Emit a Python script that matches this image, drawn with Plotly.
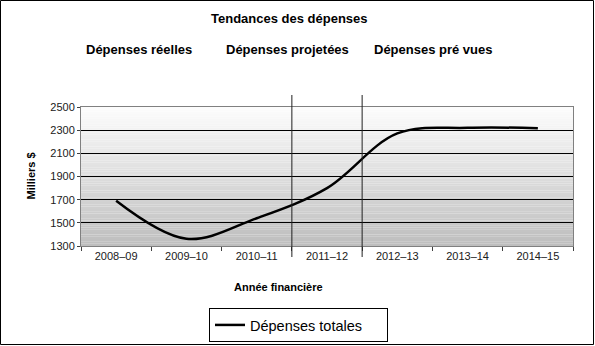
import plotly.graph_objects as go

categories = ["2008–09", "2009–10", "2010–11", "2011–12", "2012–13", "2013–14", "2014–15"]
depenses_totales = [1690, 1362, 1540, 1800, 2272, 2320, 2317]
y_ticks = [1300, 1500, 1700, 1900, 2100, 2300, 2500]
section_titles = ["Dépenses réelles", "Dépenses projetées", "Dépenses pré vues"]

W, H = 595, 346
L, R, T, B = 81, 22, 107, 100
pw, ph = W - L - R, H - T - B

fig = go.Figure()
fig.add_trace(go.Scatter(
    x=categories, y=depenses_totales, mode="lines", name="Dépenses totales",
    line=dict(color="black", width=2.5, shape="spline", smoothing=1.0),
))

shapes = []
# vertical gradient background of plot area
n = 60
for i in range(n):
    f = i / (n - 1)
    v = int(round(190 + (252 - 190) * f))
    shapes.append(dict(type="rect", xref="x domain", yref="y domain",
                       x0=0, x1=1, y0=i / n, y1=(i + 1) / n,
                       fillcolor=f"rgb({v},{v},{v})", line=dict(width=0), layer="below"))
# section separator lines
for xs in (2.5, 3.5):
    shapes.append(dict(type="line", xref="x", yref="paper", x0=xs, x1=xs,
                       y0=-11 / ph, y1=(ph + 12) / ph, line=dict(color="#202020", width=1)))
# outer border
shapes.append(dict(type="rect", xref="paper", yref="paper",
                   x0=-(L - 0.5) / pw, x1=1 + (R - 1.5) / pw,
                   y0=-(B - 1.5) / ph, y1=1 + (T - 0.5) / ph,
                   line=dict(color="black", width=1), fillcolor="rgba(0,0,0,0)"))

annotations = [
    dict(text="<b>Tendances des dépenses</b>", x=(289 - L) / pw, y=1 + (T - 18) / ph,
         xref="paper", yref="paper", showarrow=False,
         xanchor="center", yanchor="middle", font=dict(size=13)),
    dict(text="<b>Milliers $</b>", x=-(L - 30) / pw, y=0.5, xref="paper", yref="paper",
         xanchor="center", yanchor="middle",
         showarrow=False, textangle=-90, font=dict(size=11)),
    dict(text="<b>Année financière</b>", x=(278 - L) / pw, y=-(287 - T - ph) / ph,
         xref="paper", yref="paper", xanchor="center", yanchor="middle",
         showarrow=False, font=dict(size=11)),
]
for t, cx in zip(section_titles, (139, 287, 433)):
    annotations.append(dict(text=f"<b>{t}</b>", x=(cx - L) / pw, y=1 + (T - 50) / ph,
                            xref="paper", yref="paper", xanchor="center", yanchor="middle",
                            showarrow=False, font=dict(size=13)))

fig.update_layout(
    width=W, height=H, margin=dict(l=L, r=R, t=T, b=B, autoexpand=False),
    paper_bgcolor="white", plot_bgcolor="white",
    font=dict(family="Arial, Liberation Sans", color="black", size=11),
    showlegend=True,
    legend=dict(orientation="h", xref="container", yref="container",
                x=209 / W, y=1 - 308 / H,
                xanchor="left", yanchor="top", bordercolor="black", borderwidth=1,
                font=dict(size=14.5, family="Arial, Liberation Sans"),
                bgcolor="white", itemwidth=30, entrywidth=132),
    xaxis=dict(type="category", tickson="boundaries", ticks="outside", ticklen=4,
               tickcolor="#404040", showgrid=False, showline=True, linecolor="#808080",
               mirror=True, range=[-0.5, 6.5], tickfont=dict(size=11, color="#202020")),
    yaxis=dict(range=[1300, 2500], tickvals=y_ticks, ticks="outside", ticklen=3,
               tickcolor="#404040", showgrid=True, gridcolor="black", gridwidth=1,
               showline=True, linecolor="#808080", mirror=True, zeroline=False,
               tickfont=dict(size=11, color="#202020")),
    shapes=shapes, annotations=annotations,
)
fig.write_html("out.html")
